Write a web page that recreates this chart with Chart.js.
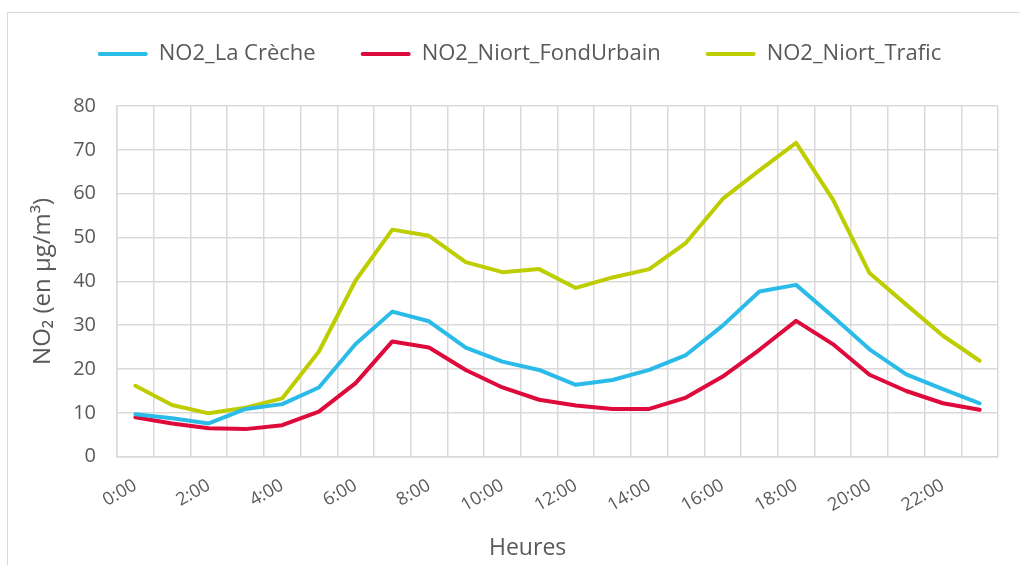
<!DOCTYPE html>
<html>
<head>
<meta charset="utf-8">
<script src="https://cdn.jsdelivr.net/npm/chart.js@4.4.1/dist/chart.umd.min.js"></script>
<style>
  html, body { margin: 0; padding: 0; background: #fff; overflow: hidden; width: 1020px; height: 565px; }
  #box { position: absolute; left: 7px; top: 12px; width: 1040px; height: 560px; border: 1px solid #d9d9d9; }
  #chart { position: absolute; left: 8px; top: -5px; display: block; }
</style>
</head>
<body>
<div id="box"></div>
<canvas id="chart" width="1063" height="570"></canvas>
<script>
const hours = ['0:00', '1:00', '2:00', '3:00', '4:00', '5:00', '6:00', '7:00', '8:00', '9:00', '10:00', '11:00',
               '12:00', '13:00', '14:00', '15:00', '16:00', '17:00', '18:00', '19:00', '20:00', '21:00', '22:00', '23:00'];

const laCreche = [9.7, 8.8, 7.6, 10.9, 12.0, 15.8, 25.7, 33.1, 30.9, 24.9, 21.7, 19.8,
                  16.4, 17.5, 19.8, 23.2, 29.9, 37.7, 39.2, 32.0, 24.5, 18.8, 15.4, 12.2];
const fondUrbain = [9.0, 7.6, 6.5, 6.3, 7.2, 10.3, 16.8, 26.3, 24.9, 19.8, 15.8, 13.0,
                    11.7, 10.9, 10.9, 13.5, 18.3, 24.4, 31.0, 25.7, 18.7, 15.0, 12.2, 10.7];
const trafic = [16.2, 11.8, 9.9, 11.2, 13.3, 24.0, 40.2, 51.8, 50.4, 44.4, 42.1, 42.8,
                38.5, 40.9, 42.8, 48.8, 58.8, 65.3, 71.6, 58.7, 41.9, 34.7, 27.6, 21.9];

const yTicks = [0, 10, 20, 30, 40, 50, 60, 70, 80];

const textColor = '#595959';
const gridColor = '#d9d9d9';
const font = 'Open Sans';

// extra room between the legend and the plot, and nudge the legend a bit to the right
const legendGap = {
    id: 'legendGap',
    beforeInit(c) {
        const fit = c.legend.fit;
        c.legend.fit = function () {
            fit.bind(c.legend)();
            this.height += 31;
        };
    },
    afterLayout(c) {
        c.legend.left += 8;
        c.legend.right += 8;
    }
};

const chart = document.querySelector('#chart').getContext('2d');

new Chart(chart, {
    type: 'line',
    data: {
        labels: hours,
        datasets: [
            { label: 'NO2_La Crèche', data: laCreche, borderColor: '#2abbe8', backgroundColor: '#2abbe8' },
            { label: 'NO2_Niort_FondUrbain', data: fondUrbain, borderColor: '#df0a3c', backgroundColor: '#df0a3c' },
            { label: 'NO2_Niort_Trafic', data: trafic, borderColor: '#bdcd00', backgroundColor: '#bdcd00' }
        ]
    },
    plugins: [legendGap],
    options: {
        responsive: false,
        animation: false,
        layout: { padding: { top: 3, left: 17, right: 73, bottom: 0 } },
        elements: {
            line: { borderWidth: 4, tension: 0, borderCapStyle: 'round', borderJoinStyle: 'round' },
            point: { radius: 0 }
        },
        plugins: {
            tooltip: { enabled: false },
            legend: {
                position: 'top',
                labels: {
                    color: textColor,
                    font: { family: font, size: 22 },
                    boxWidth: 50,
                    boxHeight: 4,
                    padding: 45,
                    generateLabels(c) {
                        const items = Chart.defaults.plugins.legend.labels.generateLabels(c);
                        items.forEach(i => { i.lineWidth = 0; i.fillStyle = i.strokeStyle; i.borderRadius = 2; });
                        return items;
                    }
                }
            }
        },
        scales: {
            x: {
                offset: true,
                grid: { offset: true, color: gridColor, lineWidth: 1.5, drawTicks: false },
                border: { color: gridColor, width: 1.5 },
                ticks: {
                    autoSkip: false,
                    minRotation: 30,
                    maxRotation: 30,
                    padding: 18,
                    color: textColor,
                    font: { family: font, size: 18 },
                    callback: (v, i) => (i % 2 === 0 ? hours[i] : '')
                },
                title: {
                    display: true,
                    text: 'Heures          ',
                    color: textColor,
                    font: { family: font, size: 23 },
                    padding: { top: 0, bottom: 3 }
                }
            },
            y: {
                min: 0,
                max: 80,
                afterBuildTicks: axis => { axis.ticks = yTicks.map(v => ({ value: v })); },
                afterFit: axis => { axis.width = 92; },
                grid: { color: gridColor, lineWidth: 1.5, drawTicks: false },
                border: { color: gridColor, width: 1.5 },
                ticks: {
                    padding: 21,
                    color: textColor,
                    font: { family: font, size: 20 }
                },
                title: {
                    display: true,
                    text: 'NO₂ (en µg/m³)',
                    color: textColor,
                    font: { family: font, size: 24 },
                    padding: { top: 4, bottom: 16 }
                }
            }
        }
    }
})
</script>
</body>
</html>
